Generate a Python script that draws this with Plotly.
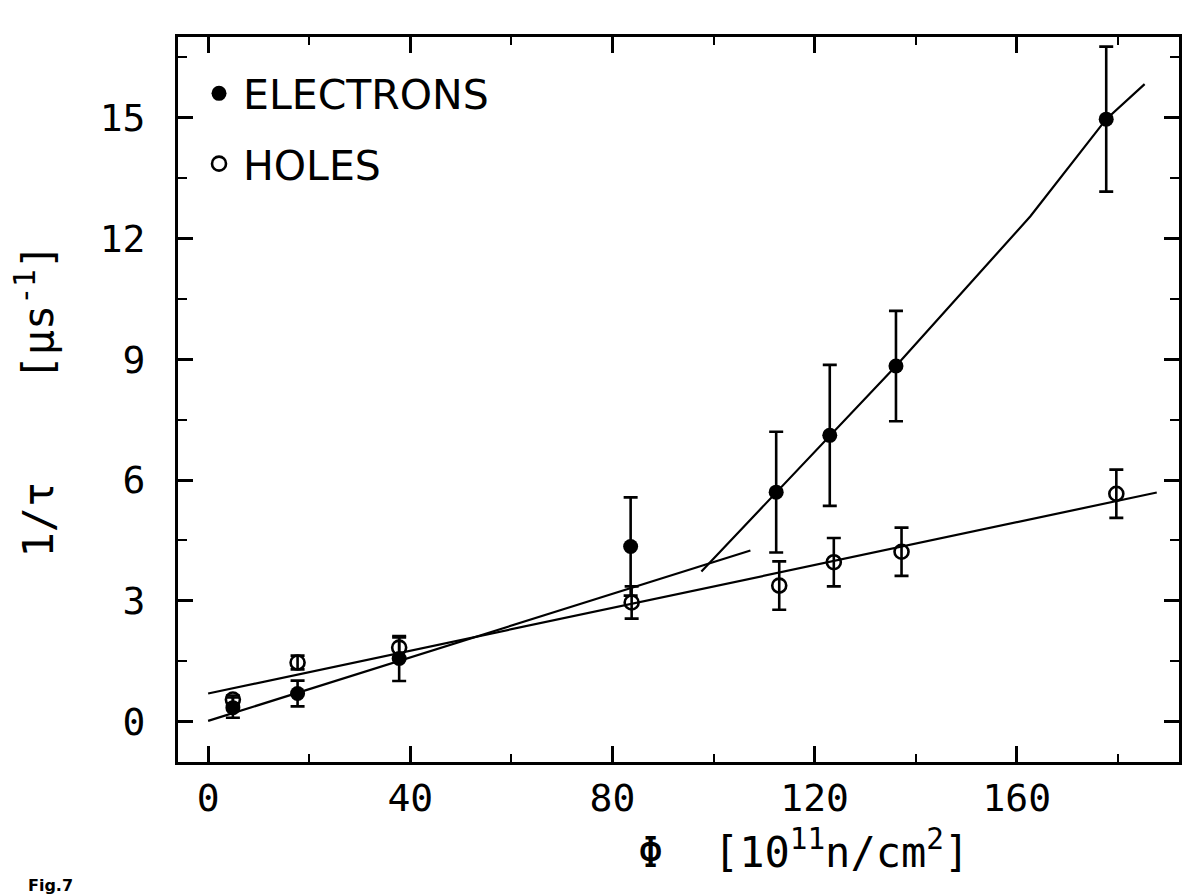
import plotly.graph_objects as go

# --- data ---
e_x = [4.9, 17.7, 37.8, 83.6, 112.4, 123.0, 136.1, 177.7]
e_y = [0.35, 0.70, 1.57, 4.35, 5.70, 7.11, 8.83, 14.96]
e_err = [0.25, 0.32, 0.56, 1.22, 1.50, 1.75, 1.37, 1.80]

h_x = [4.9, 17.7, 37.8, 83.8, 113.0, 123.8, 137.2, 179.7]
h_y = [0.55, 1.47, 1.84, 2.96, 3.38, 3.96, 4.22, 5.66]
h_err = [0.10, 0.17, 0.25, 0.40, 0.60, 0.60, 0.60, 0.60]

# fitted lines
e_low_x = [0.0, 107.3]
e_low_y = [0.02, 4.25]
e_high_x = [97.6, 112.4, 123.0, 136.1, 162.7, 177.7, 185.3]
e_high_y = [3.73, 5.70, 7.11, 8.83, 12.55, 14.96, 15.83]
h_line_x = [0.0, 187.7]
h_line_y = [0.70, 5.69]

x_ticks = [0, 40, 80, 120, 160]
y_ticks = [0, 3, 6, 9, 12, 15]

MONO = "DejaVu Sans Mono"
SANS = "DejaVu Sans"

fig = go.Figure()
for xs, ys in [(e_low_x, e_low_y), (e_high_x, e_high_y), (h_line_x, h_line_y)]:
    fig.add_trace(go.Scatter(x=xs, y=ys, mode="lines",
                             line=dict(color="black", width=2.2),
                             showlegend=False, hoverinfo="skip"))

fig.add_trace(go.Scatter(
    x=e_x, y=e_y, mode="markers", name="ELECTRONS", legendgroup="e",
    marker=dict(symbol="circle", size=15, color="black"),
    error_y=dict(type="data", array=e_err, visible=True, color="black",
                 thickness=2.6, width=7)))
fig.add_trace(go.Scatter(
    x=h_x, y=h_y, mode="markers", name="HOLES", legendgroup="h",
    marker=dict(symbol="circle-open", size=14, color="black",
                line=dict(width=2.6, color="black")),
    error_y=dict(type="data", array=h_err, visible=True, color="black",
                 thickness=2.6, width=7)))

axis_common = dict(showline=True, linewidth=3, linecolor="black",
                   mirror="ticks", ticks="inside", tickwidth=2.5,
                   tickcolor="black", showgrid=False, zeroline=False,
                   tickfont=dict(family=MONO, size=38, color="black"))

fig.update_xaxes(range=[-5.96, 192.1], tickvals=x_ticks, ticklen=16,
                 ticklabelstandoff=0,
                 minor=dict(dtick=20, tick0=0, ticklen=8, ticks="inside",
                            tickwidth=2, tickcolor="black", showgrid=False),
                 **axis_common)
fig.update_yaxes(range=[-1.0, 17.0], tickvals=y_ticks, ticklen=15,
                 ticklabelstandoff=22,
                 minor=dict(dtick=1.5, tick0=0, ticklen=9, ticks="inside",
                            tickwidth=2, tickcolor="black", showgrid=False),
                 **axis_common)

fig.update_layout(
    width=1183, height=896,
    margin=dict(l=178, r=1, t=37, b=134),
    paper_bgcolor="white", plot_bgcolor="white",
    showlegend=True,
    legend=dict(x=0.017, y=0.968, xanchor="left", yanchor="top",
                bgcolor="rgba(0,0,0,0)", borderwidth=0,
                font=dict(family=SANS, size=41, color="black"),
                traceorder="grouped", tracegroupgap=14, itemsizing="trace",
                itemwidth=38),
    annotations=[
        dict(text="\u03a6  [10<sup>11</sup>n/cm<sup>2</sup>]",
             xref="paper", yref="paper", x=0.6245, y=-0.121,
             xanchor="center", yanchor="middle", showarrow=False,
             font=dict(family=MONO, size=42, color="black")),
        dict(text="1/\u03c4    [\u03bcs<sup>-1</sup>]",
             xref="paper", yref="paper", x=-0.1424, y=0.4993,
             xanchor="center", yanchor="middle", showarrow=False,
             textangle=-90,
             font=dict(family=MONO, size=42, color="black")),
        dict(text="<b>Fig.7</b>", xref="paper", yref="paper",
             x=-0.152, y=-0.17, xanchor="left", yanchor="middle",
             showarrow=False, font=dict(family=SANS, size=16, color="black")),
    ],
)

fig.write_html("out.html")
